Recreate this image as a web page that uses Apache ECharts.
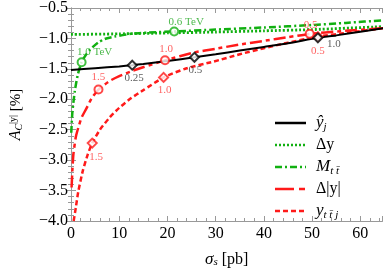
<!DOCTYPE html>
<html><head><meta charset="utf-8">
<script src="https://cdn.jsdelivr.net/npm/echarts@6/dist/echarts.min.js"></script>
<style>html,body{margin:0;padding:0;background:#fff}#c{width:383px;height:273px}</style>
</head><body><div id="c"></div>
<script>
// ---- data ----
const xTicks = [0,10,20,30,40,50,60];
const yTicks = [-4.0,-3.5,-3.0,-2.5,-2.0,-1.5,-1.0,-0.5];

const hatyX = [0,5,10,12.7,15,20,25.6,30,35,40,45,51.2,55,60,65];
const hatyY = [-1.52,-1.49,-1.46,-1.44,-1.42,-1.37,-1.31,-1.26,-1.20,-1.14,-1.08,-0.99,-0.95,-0.89,-0.83];

const dyX = [0,10,20,30,40,50,65];
const dyY = [-0.935,-0.925,-0.91,-0.895,-0.875,-0.855,-0.805];

const mttX = [0.05,0.3,0.8,1.4,2.2,3,4,5.6,7,9,12.4,15.8,21.4,30,40,50,57,65];
const mttY = [-2.55,-2.2,-1.86,-1.6,-1.39,-1.28,-1.18,-1.07,-1.01,-0.97,-0.925,-0.905,-0.885,-0.855,-0.82,-0.78,-0.745,-0.70];

const dabsX = [0.12,0.3,0.5,1,1.5,2.2,3.2,4.3,5.7,8,10,12.5,15.1,19.5,25.6,30,35,40,45,49.5,56,65];
const dabsY = [-3.45,-3.15,-2.9,-2.62,-2.47,-2.3,-2.15,-1.98,-1.84,-1.70,-1.62,-1.54,-1.47,-1.36,-1.23,-1.17,-1.10,-1.04,-0.98,-0.925,-0.88,-0.83];

const yttjX = [0.55,1,1.5,2.5,3.5,4.4,6,8,10,12.5,15,19.2,24,29.6,35,40,45,51.2,58,65];
const yttjY = [-4.0,-3.78,-3.52,-3.16,-2.9,-2.72,-2.5,-2.3,-2.14,-1.98,-1.85,-1.64,-1.49,-1.38,-1.26,-1.16,-1.07,-0.97,-0.9,-0.83];

const hatyMkX = [12.7,25.6,51.2], hatyMkY = [-1.44,-1.31,-0.99], hatyMkL = ['0.25','0.5','1.0'];
const mttMkX = [2.2,21.4], mttMkY = [-1.39,-0.885], mttMkL = ['1.0 TeV','0.6 TeV'];
const dabsMkX = [5.7,19.5,49.5], dabsMkY = [-1.84,-1.36,-0.925], dabsMkL = ['1.5','1.0','0.5'];
const yttjMkX = [4.4,19.2,51.2], yttjMkY = [-2.72,-1.64,-0.97], yttjMkL = ['1.5','1.0','0.5'];

// ---- styling ----
const GREEN = '#11b011', RED = '#ff1a1a', BLACK = '#000';
const SERIF = '"Liberation Serif", "DejaVu Serif", serif';
const zip = (xs, ys) => xs.map((x, i) => [x, ys[i]]);

function lineSeries(name, xs, ys, color, width, dash) {
  return { name, type: 'line', data: zip(xs, ys), showSymbol: false, symbol: 'none',
    smooth: 0.2, lineStyle: { color, width, type: dash, cap: 'butt' }, z: 3, silent: true };
}
function markerSeries(xs, ys, labels, symbol, size, color, labelColor, offsets) {
  return { type: 'scatter', z: 5, silent: true,
    data: xs.map((x, i) => ({ value: [x, ys[i]], label: { show: true, formatter: labels[i],
      position: 'inside', offset: offsets[i], color: labelColor, fontFamily: SERIF, fontSize: 11 } })),
    symbol, symbolSize: size,
    itemStyle: { color: '#fff', borderColor: color, borderWidth: 2 } };
}

const fmt = v => (v < 0 ? '\u2212' : '') + Math.abs(v).toFixed(1);
const axisCommon = {
  axisLine: { lineStyle: { color: '#999', width: 1 } },
  axisTick: { inside: true, length: 5, lineStyle: { color: '#999' } },
  minorTick: { show: true, splitNumber: 5, length: 3, lineStyle: { color: '#999' } },
  splitLine: { show: false }
};

const option = {
  animation: false,
  grid: { left: 66, right: 0.5, top: 7, bottom: 44, containLabel: false },
  xAxis: [
    Object.assign({ type: 'value', min: 0, max: 64.6, interval: 10, position: 'bottom',
      axisLabel: { fontFamily: SERIF, fontSize: 16, color: '#000', margin: 5,
        customValues: xTicks, formatter: v => String(v) },
      name: '{i|σ}{sub|s} [pb]', nameLocation: 'middle', nameGap: 30,
      nameTextStyle: { fontFamily: SERIF, fontSize: 16, color: '#000',
        rich: { i: { fontFamily: SERIF, fontStyle: 'italic', fontSize: 17, color: '#000' },
                sub: { fontFamily: SERIF, fontStyle: 'italic', fontSize: 11, color: '#000', verticalAlign: 'bottom', padding: [6,0,0,0] } } }
    }, axisCommon),
    Object.assign({ type: 'value', min: 0, max: 64.6, interval: 10, position: 'top',
      axisLabel: { show: false } }, axisCommon)
  ],
  yAxis: [
    Object.assign({ type: 'value', min: -4, max: -0.5, interval: 0.5, position: 'left',
      axisLabel: { fontFamily: SERIF, fontSize: 16, color: '#000', margin: 3, formatter: fmt },
      name: '{i|A}{sub|C}{sup||y|} [%]', nameLocation: 'middle', nameGap: 47, nameRotate: 90,
      nameTextStyle: { fontFamily: SERIF, fontSize: 15, color: '#000',
        rich: { i: { fontFamily: SERIF, fontStyle: 'italic', fontSize: 16, color: '#000' },
                sub: { fontFamily: SERIF, fontStyle: 'italic', fontSize: 10, color: '#000', verticalAlign: 'bottom', padding: [6,0,0,0] },
                sup: { fontFamily: SERIF, fontSize: 10, color: '#000', verticalAlign: 'top', padding: [0,0,6,0] } } }
    }, axisCommon),
    Object.assign({ type: 'value', min: -4, max: -0.5, interval: 0.5, position: 'right',
      axisLabel: { show: false } }, axisCommon)
  ],
  series: [
    lineSeries('dy', dyX, dyY, GREEN, 2.8, [2, 2]),
    lineSeries('mtt', mttX, mttY, GREEN, 2.5, [7, 3, 2, 3]),
    lineSeries('yttj', yttjX, yttjY, RED, 2.5, [5, 3]),
    lineSeries('dabs', dabsX, dabsY, RED, 2.5, [12, 4, 4, 4]),
    lineSeries('haty', hatyX, hatyY, BLACK, 2, 'solid'),
    markerSeries(mttMkX, mttMkY, mttMkL, 'circle', 8, GREEN, '#22a822', [[13, -10], [12, -9]]),
    markerSeries(dabsMkX, dabsMkY, dabsMkL, 'circle', 8, RED, '#ff3b3b', [[0, -12], [1, -11], [1, -9]]),
    markerSeries(yttjMkX, yttjMkY, yttjMkL, 'diamond', 9, RED, '#ff3b3b', [[4, 14], [1, 13], [0, 15]]),
    markerSeries(hatyMkX, hatyMkY, hatyMkL, 'diamond', 9, BLACK, '#333', [[2, 13], [1, 13], [16, 6]])
  ],
  graphic: []
};

// legend (drawn as graphics)
const legendItems = [
  { text: '{i|ŷ}{sub|j}', color: BLACK, width: 2.5, dash: null },
  { text: '{n|Δy}', color: GREEN, width: 2.5, dash: [2, 2] },
  { text: '{i|M}{sub|t t\u0304}', color: GREEN, width: 2.5, dash: [7, 3, 2, 3] },
  { text: '{n|Δ|y|}', color: RED, width: 2.5, dash: [19, 5, 6, 100] },
  { text: '{i|y}{sub|t t\u0304 j}', color: RED, width: 2.5, dash: [5, 3] }
];
const legRich = {
  i: { fontFamily: SERIF, fontStyle: 'italic', fontSize: 17, fill: '#000' },
  n: { fontFamily: SERIF, fontSize: 16, fill: '#000' },
  sub: { fontFamily: SERIF, fontStyle: 'italic', fontSize: 11, fill: '#000', verticalAlign: 'bottom', padding: [8, 0, 0, 0] }
};
legendItems.forEach((it, k) => {
  const y = 123 + k * 22;
  option.graphic.push({ type: 'line', shape: { x1: 275, y1: y, x2: 306, y2: y },
    style: { stroke: it.color, lineWidth: it.width, lineDash: it.dash }, z: 10 });
  option.graphic.push({ type: 'text', x: 316, y: y, z: 10,
    style: { text: it.text, rich: legRich, verticalAlign: 'middle', fill: '#000', fontFamily: SERIF, fontSize: 16 } });
});

const chart = echarts.init(document.getElementById('c'), null, { renderer: 'canvas' });
chart.setOption(option);
</script></body></html>
